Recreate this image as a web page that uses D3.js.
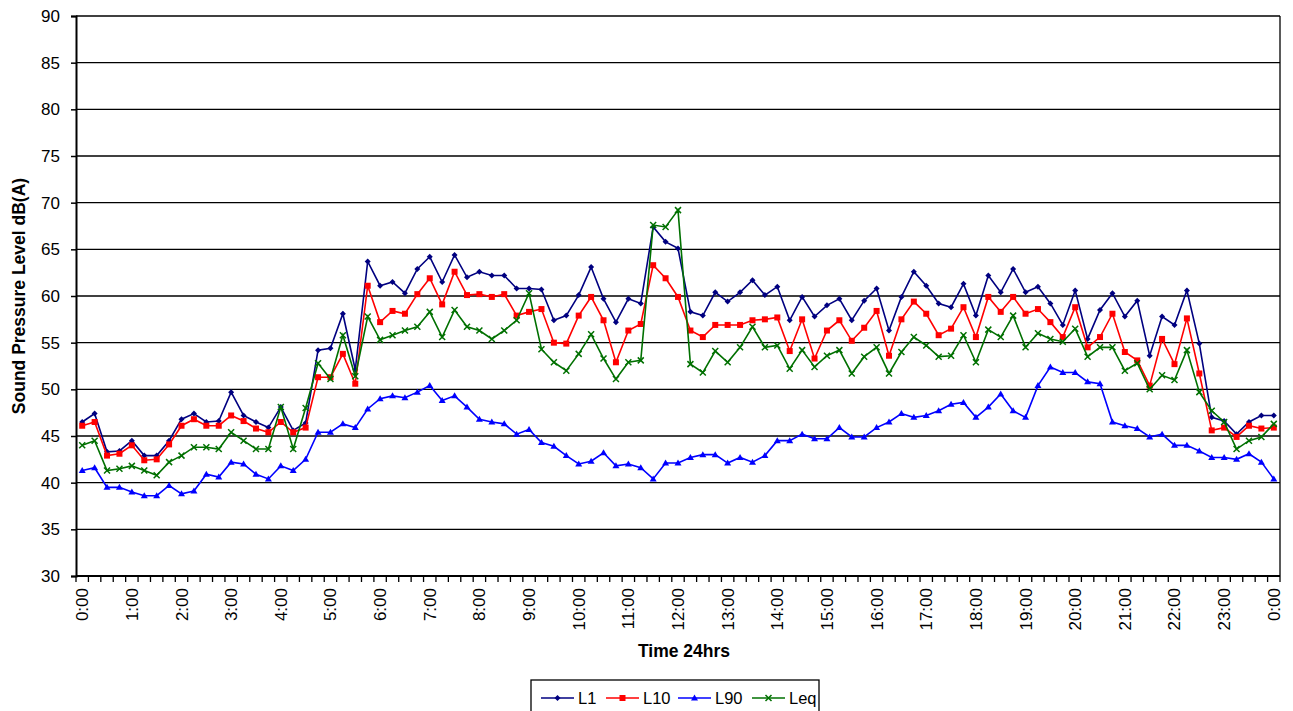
<!DOCTYPE html>
<html><head><meta charset="utf-8">
<script src="https://cdn.jsdelivr.net/npm/d3@7"></script>
<style>body{margin:0;background:#fff;font-family:"Liberation Sans",Arial,sans-serif;}</style>
</head><body><svg id="c" width="1293" height="711"></svg>
<script>
const times = [];
for (let h = 0; h <= 24; h++) for (let m = 0; m < 60; m += 15) { if (h === 24 && m > 0) break; times.push((h % 24) + ":" + String(m).padStart(2, "0")); }
const L1 = [46.5,47.4,43.3,43.4,44.5,42.9,42.9,44.5,46.8,47.4,46.5,46.6,49.7,47.2,46.5,45.9,48.1,45.6,46.4,54.2,54.4,58.1,52.1,63.7,61.1,61.5,60.3,62.9,64.2,61.5,64.4,62.0,62.6,62.2,62.2,60.8,60.8,60.7,57.4,57.9,60.1,63.1,59.7,57.2,59.7,59.2,67.4,65.8,65.1,58.3,57.9,60.4,59.4,60.4,61.7,60.1,61.0,57.4,59.9,57.8,59.0,59.7,57.4,59.5,60.8,56.3,59.9,62.6,61.1,59.2,58.8,61.3,57.9,62.2,60.4,62.9,60.4,61.0,59.2,56.9,60.6,55.4,58.5,60.3,57.8,59.5,53.6,57.8,56.9,60.6,54.9,47.0,46.6,45.2,46.5,47.2,47.2];
const L10 = [46.1,46.5,42.9,43.1,44.0,42.4,42.5,44.1,46.1,46.8,46.1,46.1,47.2,46.6,45.8,45.4,46.5,45.4,45.9,51.3,51.3,53.8,50.6,61.1,57.2,58.4,58.1,60.2,61.9,59.1,62.6,60.1,60.2,59.9,60.2,57.9,58.3,58.6,55.0,54.9,57.9,59.9,57.4,52.9,56.3,57.0,63.3,61.9,59.9,56.3,55.6,56.9,56.9,56.9,57.4,57.5,57.7,54.1,57.5,53.3,56.3,57.4,55.2,56.6,58.4,53.6,57.5,59.4,58.1,55.8,56.5,58.8,55.6,59.9,58.3,59.9,58.1,58.6,57.2,55.6,58.8,54.5,55.6,58.1,54.0,53.1,50.4,55.4,52.7,57.6,51.7,45.6,45.9,44.9,46.1,45.8,45.9];
const L90 = [41.3,41.6,39.5,39.5,39.0,38.6,38.6,39.7,38.8,39.1,40.9,40.6,42.2,42.0,40.9,40.4,41.8,41.3,42.5,45.4,45.4,46.3,45.9,47.9,49.0,49.3,49.1,49.7,50.4,48.8,49.3,48.1,46.8,46.5,46.3,45.2,45.7,44.3,43.9,42.9,42.0,42.3,43.2,41.8,42.0,41.6,40.4,42.1,42.1,42.7,43.0,43.0,42.1,42.7,42.2,42.9,44.5,44.5,45.2,44.7,44.7,45.9,44.9,44.9,45.9,46.5,47.4,47.0,47.2,47.7,48.4,48.6,47.0,48.1,49.5,47.7,47.0,50.4,52.4,51.8,51.8,50.8,50.6,46.5,46.1,45.8,44.9,45.2,44.0,44.0,43.4,42.7,42.7,42.5,43.1,42.2,40.4];
const Leq = [44.0,44.5,41.3,41.5,41.8,41.3,40.8,42.2,42.9,43.8,43.8,43.6,45.4,44.5,43.6,43.6,48.1,43.6,48.0,52.8,51.1,55.8,51.4,57.8,55.3,55.8,56.3,56.7,58.3,55.6,58.5,56.7,56.3,55.4,56.3,57.4,60.3,54.3,52.9,52.0,53.8,55.9,53.3,51.1,52.9,53.1,67.6,67.4,69.2,52.7,51.8,54.1,52.9,54.5,56.7,54.5,54.7,52.2,54.2,52.4,53.6,54.2,51.7,53.5,54.5,51.7,54.0,55.6,54.7,53.5,53.6,55.8,52.9,56.4,55.6,57.9,54.5,56.0,55.4,55.1,56.5,53.5,54.5,54.5,52.0,52.8,50.0,51.5,51.0,54.2,49.7,47.7,46.5,43.6,44.5,44.9,46.3];
const yTicks = [30,35,40,45,50,55,60,65,70,75,80,85,90];
const seriesNames = ["L1","L10","L90","Leq"];

const svg = d3.select("#c");
const m = {l:76, r:1280, t:16, b:576};
const x = d3.scaleBand().domain(d3.range(times.length)).range([m.l, m.r]);
const y = d3.scaleLinear().domain([30,90]).range([m.b, m.t]);
const cx = i => x(i) + x.bandwidth()/2;

// gridlines
svg.append("g").selectAll("line").data(yTicks.slice(1)).join("line")
  .attr("x1", m.l).attr("x2", m.r).attr("y1", d=>y(d)).attr("y2", d=>y(d))
  .attr("stroke","#000").attr("stroke-width",1.3);
// right border
svg.append("line").attr("x1",m.r).attr("x2",m.r).attr("y1",m.t).attr("y2",m.b).attr("stroke","#000").attr("stroke-width",1.3);

// y axis
const ya = svg.append("g").attr("transform",`translate(${m.l},0)`)
  .call(d3.axisLeft(y).tickValues(yTicks).tickSize(5).tickPadding(11).tickFormat(d3.format("d")));
ya.select(".domain").attr("stroke","#000").attr("stroke-width",2);
ya.selectAll(".tick line").attr("stroke","#000").attr("stroke-width",1.5);
ya.selectAll("text").attr("font-size",17).attr("font-family","Liberation Sans, Arial").attr("fill","#000");

// x axis: ticks at category boundaries
const xa = svg.append("g");
xa.append("line").attr("x1",m.l).attr("x2",m.r).attr("y1",m.b).attr("y2",m.b).attr("stroke","#000").attr("stroke-width",2);
xa.selectAll("line.tk").data(d3.range(times.length+1)).join("line").attr("class","tk")
  .attr("x1",i=>m.l + i*x.step()).attr("x2",i=>m.l + i*x.step())
  .attr("y1",m.b).attr("y2",m.b+6).attr("stroke","#000").attr("stroke-width",1.3);
xa.selectAll("text").data(d3.range(0,times.length,4)).join("text")
  .attr("transform",i=>`translate(${cx(i)+6},${m.b+12}) rotate(-90)`)
  .attr("text-anchor","end").attr("font-size",17).attr("fill","#000")
  .text(i=>times[i]);

// titles
svg.append("text").attr("transform",`translate(25,${(m.t+m.b)/2}) rotate(-90)`)
  .attr("text-anchor","middle").attr("font-size",17.5).attr("font-weight","bold").text("Sound Pressure Level dB(A)");
svg.append("text").attr("x",684).attr("y",657).attr("text-anchor","middle")
  .attr("font-size",17.5).attr("font-weight","bold").text("Time 24hrs");

const colors = {L1:"#000080", L10:"#FF0000", L90:"#0000FF", Leq:"#007000"};
const dataMap = {L1, L10, L90, Leq};
function marker(g, name, px, py){
  const c = colors[name];
  if (name==="L1") g.append("path").attr("d",`M${px},${py-3}L${px+3},${py}L${px},${py+3}L${px-3},${py}Z`).attr("fill",c);
  else if (name==="L10") g.append("rect").attr("x",px-3).attr("y",py-3).attr("width",6).attr("height",6).attr("fill",c);
  else if (name==="L90") g.append("path").attr("d",`M${px},${py-3.5}L${px+3.5},${py+2.5}L${px-3.5},${py+2.5}Z`).attr("fill",c);
  else g.append("path").attr("d",`M${px-3},${py-3}L${px+3},${py+3}M${px+3},${py-3}L${px-3},${py+3}`).attr("stroke",c).attr("stroke-width",1.5);
}
const line = d3.line().x((d,i)=>cx(i)).y(d=>y(d));
["L90","L1","L10","Leq"].forEach(name=>{
  const g = svg.append("g");
  g.append("path").datum(dataMap[name]).attr("d",line).attr("fill","none")
    .attr("stroke",colors[name]).attr("stroke-width",1.6);
  dataMap[name].forEach((v,i)=>marker(g,name,cx(i),y(v)));
});

// legend
const lg = svg.append("g");
lg.append("rect").attr("x",531).attr("y",680).attr("width",288).attr("height",40)
  .attr("fill","#fff").attr("stroke","#000").attr("stroke-width",1.3);
const lx = [541, 606, 678, 752];
seriesNames.forEach((n,k)=>{
  const g = lg.append("g");
  g.append("line").attr("x1",lx[k]).attr("x2",lx[k]+33).attr("y1",698).attr("y2",698).attr("stroke",colors[n]).attr("stroke-width",1.6);
  marker(g,n,lx[k]+16.5,698);
  g.append("text").attr("x",lx[k]+37).attr("y",704).attr("font-size",16.5).text(n);
});
</script></body></html>
